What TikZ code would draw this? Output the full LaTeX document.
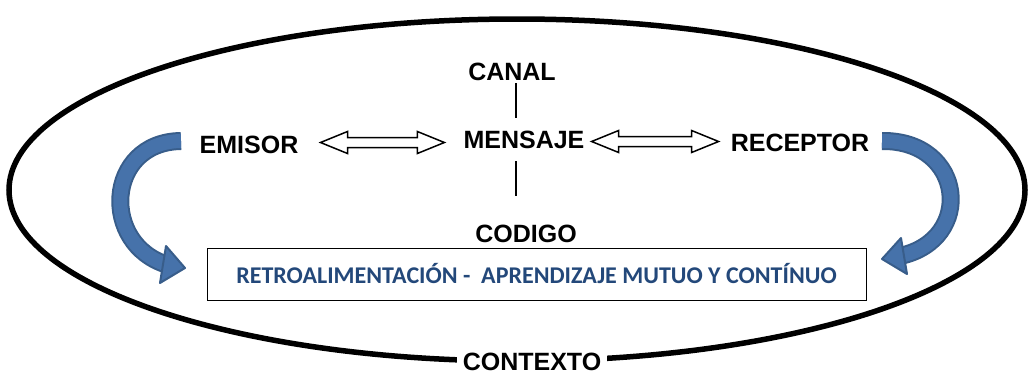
\documentclass[tikz,border=0pt]{standalone}
\usepackage{fontspec}
\setmainfont{Liberation Sans}
\newfontfamily\boxfont{Carlito}
\usepackage{tikz}
\usetikzlibrary{calc}
\definecolor{arrowblue}{RGB}{70,114,170}
\definecolor{arrowedge}{RGB}{56,93,138}
\definecolor{textblue}{RGB}{35,72,122}

\newcommand{\hollowarrow}[2]{%
  \draw[hollow] let \p1=(#1), \p2=(#2), \p3=(\x1,{0.5*\y1+0.5*\y2}) in
    (\x1,\y3) -- ++(27pt,11pt) -- ++(0pt,-6pt) -- (\x2-27pt,\y3+5pt) -- ++(0pt,6pt)
    -- (\x2,\y3) -- ++(-27pt,-11pt) -- ++(0pt,6pt) -- (\x1+27pt,\y3-5pt) -- ++(0pt,-6pt) -- cycle;}

\begin{document}
\begin{tikzpicture}[x=1pt,y=-1pt,
  lbl/.style={font=\fontsize{25}{29}\selectfont\bfseries, inner sep=2pt},
  hollow/.style={draw=black, line width=1.5pt, fill=white, line join=miter},
  band/.style={draw=arrowblue, line width=14pt, preaction={draw=arrowedge, line width=18pt}},
  bandhead/.style={draw=arrowedge, fill=arrowblue, line width=2pt, line join=round}]
 \useasboundingbox (0,0) rectangle (1028,375);
 \draw[line width=5.5pt] (517,190) ellipse [x radius=508, y radius=171];
 \node[lbl] (canal) at (512,72) {CANAL};
 \node[lbl] (mensaje) at (524,140) {MENSAJE};
 \node[lbl] (codigo) at (526,234) {CODIGO};
 \node[lbl] (emisor) at (249,145) {EMISOR};
 \node[lbl] (receptor) at (800,143) {RECEPTOR};
 \node[lbl, fill=white, inner xsep=6pt] (contexto) at (532,362) {CONTEXTO};
 \node[draw, line width=1pt, minimum width=659, minimum height=52,
   font=\boxfont\fontsize{24}{28}\selectfont\bfseries, text=textblue] (retro) at (536.5,274)
   {RETROALIMENTACIÓN -~ APRENDIZAJE MUTUO Y CONTÍNUO};
 % canal / codigo
 \draw[line width=1.5pt, shorten >=11pt] (516,0 |- canal.south) -- (516,0 |- mensaje.north);
 \draw[line width=1.5pt, shorten <=10pt, shorten >=27pt] (516,0 |- mensaje.south) -- (516,0 |- codigo.north);
 % emisor <-> mensaje <-> receptor
 \hollowarrow{$(emisor.east)+(20,0)$}{$(mensaje.west)+(-17,0)$}
 \hollowarrow{$(mensaje.east)+(5,0)$}{$(receptor.west)+(-10,0)$}
 % retroalimentacion
 \coordinate (fbLs) at (181,141);
 \coordinate (fbLe) at (168,265);
 \coordinate (fbRs) at (882,141);
 \coordinate (fbRe) at (900,256);
 \draw[band] (fbLs) .. controls (105,142) and (100,245) .. (fbLe);
 \draw[bandhead] (166,246) -- (185,268) -- (160,283) -- cycle;
 \draw[band] (fbRs) .. controls (965,140) and (975,240) .. (fbRe);
 \draw[bandhead] (901,238) -- (882,259) -- (907,274) -- cycle;
\end{tikzpicture}
\end{document}
